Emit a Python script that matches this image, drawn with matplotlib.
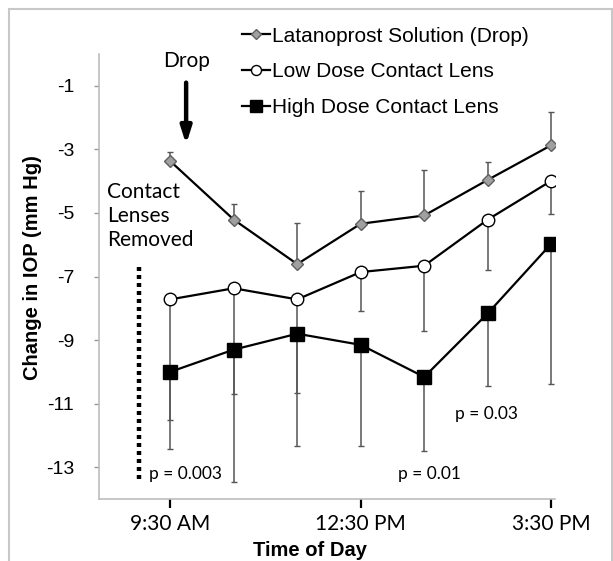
import numpy as np
import matplotlib
matplotlib.use("Agg")
from matplotlib import pyplot as plt
from matplotlib.patches import Rectangle

plt.rcParams["axes.unicode_minus"] = False

# hours of day (9:30 AM .. 3:30 PM)
hours = [9.5, 10.5, 11.5, 12.5, 13.5, 14.5, 15.5]
tick_hours = [9.5, 12.5, 15.5]
tick_labels = ["9:30 AM", "12:30 PM", "3:30 PM"]

drop = [-3.37, -5.21, -6.61, -5.34, -5.08, -3.96, -2.87]
drop_err = [0.28, 0.49, 1.29, 1.02, 1.42, 0.56, 1.05]      # upper bars only

low = [-7.72, -7.37, -7.72, -6.86, -6.66, -5.21, -3.99]
low_err = [3.78, 3.34, 2.96, 1.24, 2.05, 1.59, 1.04]       # lower bars only

high = [-10.0, -9.30, -8.80, -9.15, -10.16, -8.16, -5.97]
high_err = [2.44, 4.17, 3.52, 3.17, 2.32, 2.27, 4.42]      # lower bars only

names = ["Latanoprost Solution (Drop)", "Low Dose Contact Lens", "High Dose Contact Lens"]
p_labels = ["p = 0.003", "p = 0.01", "p = 0.03"]

arial = "Liberation Sans"
calib = "Lato"

fig = plt.figure(figsize=(6.13, 5.61), dpi=100)
ax = fig.add_axes([0.1607, 0.1105, 0.9054 - 0.1607, 0.9037 - 0.1105])

zero = [0] * len(hours)
ebkw = dict(fmt="none", ecolor="#555555", elinewidth=1.1, capsize=2.5, capthick=1.0, zorder=1)
ax.errorbar(hours, drop, yerr=[zero, drop_err], **ebkw)
ax.errorbar(hours, low, yerr=[low_err, zero], **ebkw)
ax.errorbar(hours, high, yerr=[high_err, zero], **ebkw)

ax.plot(hours, drop, "-D", color="black", lw=1.6, ms=6.5, mfc="#a0a0a0", mec="#606060",
        mew=1.0, label=names[0], zorder=3)
ax.plot(hours, low, "-o", color="black", lw=1.6, ms=9, mfc="white", mec="black",
        mew=1.0, label=names[1], zorder=3)
ax.plot(hours, high, "-s", color="black", lw=1.6, ms=10, mfc="black", mec="black",
        label=names[2], zorder=3)

ax.set_xlim(8.37, 15.56)
ax.set_ylim(-14, 0)
ax.set_yticks([-1, -3, -5, -7, -9, -11, -13])
ax.set_xticks(tick_hours)
ax.set_xticklabels(tick_labels, family=calib, fontsize=15)
for t in ax.get_yticklabels():
    t.set_family(arial)
    t.set_fontsize(14)

for s in ["top", "right"]:
    ax.spines[s].set_visible(False)
for s in ["left", "bottom"]:
    ax.spines[s].set_color("#bdbdbd")
    ax.spines[s].set_linewidth(1.2)
ax.tick_params(axis="x", length=6.5, width=1.6, color="black", pad=4)
ax.tick_params(axis="y", length=3.5, width=1.0, color="#999999", pad=14)

# annotations
ax.text(9.75, -0.22, "Drop", family=calib, fontsize=15, ha="center", va="center")
ax.annotate("", xy=(9.75, -2.84), xytext=(9.75, -0.9),
            arrowprops=dict(arrowstyle="-|>,head_length=1.0,head_width=0.32", lw=3.2,
                            color="black", shrinkA=0, shrinkB=0))
ax.text(8.51, -5.1, "Contact\nLenses\nRemoved", family=calib, fontsize=15,
        ha="left", va="center", linespacing=1.25)
ax.plot([9.01, 9.01], [-6.69, -13.4], color="black", lw=3.2, ls=(0, (0.9, 0.9)))

ax.text(9.16, -13.2, p_labels[0], family=calib, fontsize=12.5, ha="left", va="center")
ax.text(13.08, -13.2, p_labels[1], family=calib, fontsize=12.5, ha="left", va="center")
ax.text(13.98, -11.34, p_labels[2], family=calib, fontsize=12.5, ha="left", va="center")

fig.text(33 / 613, 1 - 268 / 561, "Change in IOP (mm Hg)", family=arial, weight="bold",
         fontsize=14.5, rotation=90, ha="center", va="center")
fig.text(310 / 613, 1 - 551 / 561, "Time of Day", family=arial, weight="bold",
         fontsize=14.5, ha="center", va="center")

ax.legend(loc="upper left", bbox_to_anchor=(242 / 613, 0.9527), bbox_transform=fig.transFigure,
          frameon=False, prop=dict(family=arial, size=15), handlelength=1.35,
          handletextpad=0.1, labelspacing=0.8, borderpad=0, borderaxespad=0, markerscale=0.8)

fig.patches.append(Rectangle((9 / 613, -0.02), (612 - 9) / 613, (561 - 9) / 561 + 0.02,
                             transform=fig.transFigure, fill=False, edgecolor="#c8c8c8", lw=1.5))

fig.savefig("out.png", dpi=100)
